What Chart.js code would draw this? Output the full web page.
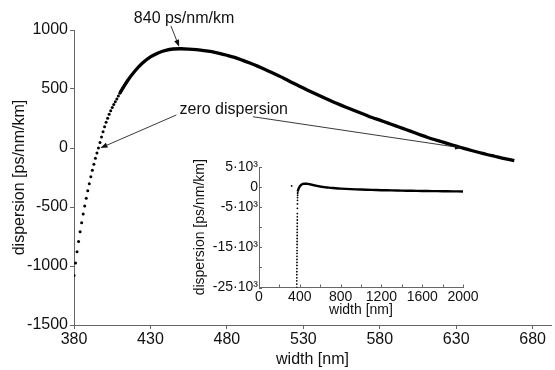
<!DOCTYPE html>
<html><head><meta charset="utf-8">
<script src="https://cdn.jsdelivr.net/npm/chart.js@4/dist/chart.umd.min.js"></script>
<style>
html,body{margin:0;padding:0;background:#fff;}
#wrap{position:relative;width:555px;height:370px;overflow:hidden;}
#main{position:absolute;left:0;top:0;}
#inset{position:absolute;left:186px;top:150px;}
</style></head><body>
<div id="wrap">
<canvas id="main" width="555" height="370"></canvas>
<canvas id="inset" width="295" height="175"></canvas>
</div>
<script>
// ---- data ----
const dotNm  = [380,381,382,383,384,385,386,387,388,389,390,391,392,393,394,395,396,397,398,399,400,401,402,403,404,405,406,407,408,409,410,411,412,413,414,415];
const dotVal = [-1080,-975,-880,-792,-710,-633,-560,-491,-425,-362,-302,-244,-189,-137,-87,-42,0,47,93,138,180,218,253,286,316,343,368,392,416,441,465,488,510,531,551,570];
const lineNm  = [410,415,420,425,430,435,440,445,450,455,460,465,470,475,480,485,490,495,500,505,510,515,520,525,530,535,540,545,550,555,560,565,570,575,580,585,590,595,600,605,610,615,620,625,630,635,640,645,650,655,660,665,668];
const lineVal = [465,570,655,722,772,806,828,839,841,838,833,826,816,802,786,768,745,720,694,666,636,605,572,540,508,477,447,417,388,361,335,309,284,258,236,213,190,166,143,119,96,74,55,35,16,-3,-21,-38,-55,-70,-85,-99,-107];
const steepNm  = [370,370.25,370.5,370.75,371,371.25,371.5,371.75,372,372.25,372.5,372.75,373,373.25,373.5,373.75,374,374.25,374.5,374.75,375,375.25,375.5,375.75,376,376.5,377,377.5,378,378.5,379,379.5];
const steepVal = [-25000,-24150,-23350,-22600,-21800,-21050,-20300,-19500,-18750,-18000,-17250,-16500,-15800,-15050,-14300,-13550,-12800,-12050,-11300,-10550,-9800,-9000,-8200,-7400,-6600,-5300,-4200,-3300,-2600,-2050,-1600,-1300];
const tailNm  = [700,750,800,900,1000,1100,1200,1300,1400,1500,1600,1700,1800,1900,2000];
const tailVal = [-185,-290,-380,-520,-620,-700,-770,-830,-880,-920,-960,-1000,-1030,-1060,-1100];
const strayNm  = [320];
const strayVal = [300];

const xTicks = [380,430,480,530,580,630,680];
const yTicks = [-1500,-1000,-500,0,500,1000];
const insetXTicks = [0,400,800,1200,1600,2000];
const insetXMinor = [200,600,1000,1400,1800];
const insetYTicks  = [-25000,-20000,-15000,-10000,-5000,0,5000];
const insetYLabels = ['-25·10³','','-15·10³','','-5·10³','0','5·10³'];

const notes  = [{text:'840 ps/nm/km', x:452, y:1093},{text:'zero dispersion', x:484.5, y:322}];
const arrows = [{from:[443.4,1035], to:[448.8,858]},{from:[447,280], to:[397.3,0]},{from:[497,265], to:[633.9,0]}];

// ---- drawing ----
const FONT = "'Liberation Sans', Arial, sans-serif";
const TXT = '#111', AX = '#666';
const pts = (xs, ys) => xs.map((v,i)=>({x:v, y:ys[i]}));

const annot = {
  id:'annot',
  afterDraw(chart){
    const {ctx, scales:{x,y}} = chart;
    ctx.save();
    ctx.font = '16px ' + FONT; ctx.fillStyle = TXT; ctx.textAlign='center'; ctx.textBaseline='middle';
    notes.forEach(n=>ctx.fillText(n.text, x.getPixelForValue(n.x), y.getPixelForValue(n.y)));
    arrows.forEach(a=>{
      const x1=x.getPixelForValue(a.from[0]), y1=y.getPixelForValue(a.from[1]);
      const x2=x.getPixelForValue(a.to[0]),   y2=y.getPixelForValue(a.to[1]);
      const ang=Math.atan2(y2-y1,x2-x1), c=Math.cos(ang), s=Math.sin(ang), L=7, W=2.6;
      ctx.strokeStyle='#222'; ctx.lineWidth=0.9;
      ctx.beginPath(); ctx.moveTo(x1,y1); ctx.lineTo(x2-L*0.7*c, y2-L*0.7*s); ctx.stroke();
      ctx.fillStyle='#111';
      ctx.beginPath(); ctx.moveTo(x2,y2);
      ctx.lineTo(x2-L*c+W*s, y2-L*s-W*c);
      ctx.lineTo(x2-L*c-W*s, y2-L*s+W*c);
      ctx.closePath(); ctx.fill();
    });
    ctx.restore();
  }
};

new Chart(document.getElementById('main'), {
  type:'scatter',
  data:{datasets:[
    {data:pts(dotNm,dotVal), showLine:false, pointRadius:1.5, pointBackgroundColor:'#000', pointBorderWidth:0},
    {data:pts(lineNm,lineVal), showLine:true, borderColor:'#000', borderWidth:3.3, pointRadius:0, tension:0.3}
  ]},
  options:{
    responsive:false, animation:false, events:[],
    layout:{padding:{left:10, top:30, right:0, bottom:1}},
    plugins:{legend:{display:false}, tooltip:{enabled:false}},
    scales:{
      x:{type:'linear', min:380, max:692,
        afterBuildTicks:s=>{s.ticks = xTicks.map(v=>({value:v}));},
        afterFit:s=>{s.height=44;},
        grid:{drawOnChartArea:false, drawTicks:true, tickLength:4, color:AX},
        border:{display:true, color:AX, width:1},
        ticks:{font:{family:FONT,size:16}, color:TXT, padding:1, maxRotation:0, callback:v=>String(v)},
        title:{display:true, text:'width [nm]', font:{family:FONT,size:16}, color:TXT, padding:0}},
      y:{type:'linear', min:-1500, max:1000,
        afterBuildTicks:s=>{s.ticks = yTicks.map(v=>({value:v}));},
        afterFit:s=>{s.width=64;},
        grid:{drawOnChartArea:false, drawTicks:true, tickLength:4, color:AX},
        border:{display:true, color:AX, width:1},
        ticks:{font:{family:FONT,size:16}, color:TXT, padding:2, callback:v=>String(v)},
        title:{display:true, text:'dispersion [ps/nm/km]', font:{family:FONT,size:16}, color:TXT, padding:0}}
    }
  },
  plugins:[annot]
});

const insetTicks = {
  id:'insetTicks',
  afterDraw(chart){
    const {ctx, scales:{x,y}, chartArea:a} = chart;
    ctx.save(); ctx.strokeStyle=AX; ctx.lineWidth=1; ctx.beginPath();
    insetXMinor.concat(insetXTicks).forEach(v=>{const px=Math.round(x.getPixelForValue(v))+0.5; ctx.moveTo(px,a.bottom); ctx.lineTo(px,a.bottom-3);});
    insetYTicks.forEach(v=>{const py=Math.round(y.getPixelForValue(v))+0.5; ctx.moveTo(a.left,py); ctx.lineTo(a.left+3,py);});
    ctx.stroke(); ctx.restore();
  }
};

new Chart(document.getElementById('inset'), {
  type:'scatter',
  data:{datasets:[
    {data:pts(strayNm,strayVal).concat(pts(steepNm,steepVal)), showLine:false, pointRadius:0.9, pointBackgroundColor:'#000', pointBorderWidth:0},
    {data:pts(dotNm.slice(0,30),dotVal.slice(0,30)).concat(pts(lineNm,lineVal), pts(tailNm,tailVal)), showLine:true, borderColor:'#000', borderWidth:2.4, pointRadius:0, tension:0.2}
  ]},
  options:{
    responsive:false, animation:false, events:[],
    layout:{padding:{left:5.6, top:17, right:18, bottom:6.6}},
    plugins:{legend:{display:false}, tooltip:{enabled:false}},
    scales:{
      x:{type:'linear', min:0, max:2000,
        afterBuildTicks:s=>{s.ticks = insetXTicks.map(v=>({value:v}));},
        afterFit:s=>{s.height=30.9;},
        grid:{drawOnChartArea:false, drawTicks:false, color:AX},
        border:{display:true, color:AX, width:1},
        ticks:{font:{family:FONT,size:14}, color:TXT, padding:1, maxRotation:0, callback:v=>String(v)},
        title:{display:true, text:'width [nm]', font:{family:FONT,size:14}, color:TXT, padding:0}},
      y:{type:'linear', min:-25000, max:5000,
        afterBuildTicks:s=>{s.ticks = insetYTicks.map(v=>({value:v}));},
        afterFit:s=>{s.width=67.4;},
        grid:{drawOnChartArea:false, drawTicks:false, color:AX},
        border:{display:true, color:AX, width:1},
        ticks:{font:{family:FONT,size:14}, color:TXT, padding:1, autoSkip:false, callback:(v)=>insetYLabels[insetYTicks.indexOf(v)] ?? ''},
        title:{display:true, text:'dispersion [ps/nm/km]', font:{family:FONT,size:14}, color:TXT, padding:0}}
    }
  },
  plugins:[insetTicks]
});
</script>
</body></html>
